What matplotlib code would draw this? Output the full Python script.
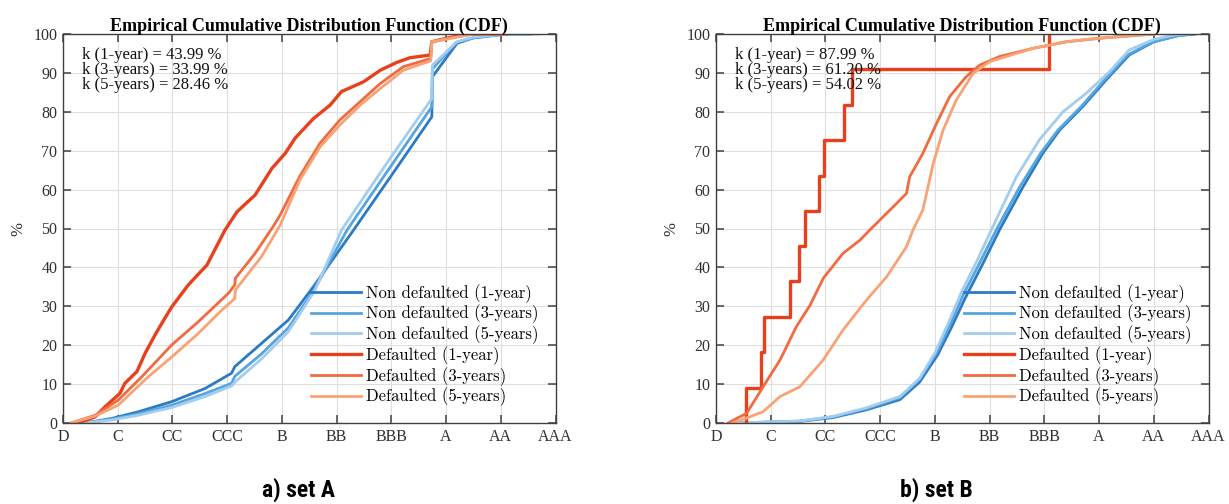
import numpy as np
import matplotlib.pyplot as plt

ratings = ['D', 'C', 'CC', 'CCC', 'B', 'BB', 'BBB', 'A', 'AA', 'AAA']

# ---- set A ----
a_nd1_x = [0.40, 0.90, 1.38, 1.99, 2.60, 3.08, 3.14, 3.63, 4.12, 4.60, 5.31, 6.00, 6.74, 6.75, 7.20, 7.50, 8.10, 8.55]
a_nd1_y = [0, 1.2, 2.9, 5.5, 8.9, 12.8, 14.5, 20.5, 26.5, 35.5, 49.6, 63.6, 78.7, 89.0, 97.6, 99.0, 100, 100]
a_nd3_x = [0.40, 0.90, 1.38, 1.99, 2.60, 3.08, 3.14, 3.63, 4.12, 4.60, 5.19, 6.00, 6.74, 6.75, 7.18, 7.50, 8.10, 8.55]
a_nd3_y = [0, 1.0, 2.4, 4.6, 7.6, 10.2, 12.0, 17.8, 24.5, 34.5, 49.6, 66.2, 81.3, 91.0, 97.8, 99.0, 100, 100]
a_nd5_x = [0.40, 0.90, 1.38, 1.99, 2.60, 3.08, 3.14, 3.63, 4.12, 4.60, 5.09, 6.00, 6.74, 6.75, 7.20, 7.50, 8.10, 8.70]
a_nd5_y = [0, 0.8, 2.0, 4.0, 6.8, 9.5, 10.5, 16.5, 23.5, 34.0, 49.6, 68.5, 83.4, 92.0, 98.0, 99.2, 100, 100]
a_d1_x = [0.19, 0.40, 0.59, 0.77, 1.04, 1.13, 1.35, 1.50, 1.68, 1.86, 1.99, 2.29, 2.63, 2.96, 3.18,
          3.51, 3.82, 4.06, 4.24, 4.58, 4.88, 5.09, 5.49, 5.80, 6.10, 6.34, 6.71, 6.74, 7.01, 7.38, 8.10]
a_d1_y = [0, 0.6, 1.6, 4.2, 7.6, 10.2, 13.2, 17.9, 22.6, 26.9, 29.9, 35.5, 40.6, 49.6, 54.3,
          58.6, 65.5, 69.3, 73.2, 78.3, 81.7, 85.2, 87.7, 90.7, 92.7, 93.9, 94.6, 98.0, 98.9, 100, 100]
a_d3_x = [0.15, 0.59, 1.01, 1.44, 1.99, 2.47, 3.02, 3.14, 3.15, 3.51, 3.84, 3.97, 4.33, 4.70, 5.06,
          5.43, 5.80, 6.22, 6.72, 6.74, 7.13, 7.50, 8.10]
a_d3_y = [0, 2.0, 5.9, 11.9, 20.1, 26.0, 33.3, 35.5, 37.2, 43.6, 50.5, 53.5, 63.5, 72.0, 77.9,
          82.6, 87.3, 91.6, 93.7, 98.0, 99.1, 100, 100]
a_d5_x = [0.15, 0.59, 1.01, 1.56, 1.99, 2.47, 2.90, 3.14, 3.15, 3.63, 3.97, 4.33, 4.70, 5.06, 5.43,
          5.80, 6.22, 6.72, 6.74, 7.13, 7.50, 8.10]
a_d5_y = [0, 1.8, 4.6, 11.9, 17.0, 23.0, 29.0, 32.0, 34.2, 42.8, 50.9, 62.5, 71.0, 76.6, 81.7,
          86.0, 90.7, 93.1, 98.0, 99.0, 100, 100]
a_k = ['43.99', '33.99', '28.46']

# ---- set B ----
b_nd1_x = [0.38, 1.53, 2.14, 2.75, 3.36, 3.72, 4.05, 4.30, 4.55, 4.86, 5.18, 5.61, 5.97, 6.28, 6.70, 7.13, 7.55, 8.00, 8.45, 8.75]
b_nd1_y = [0, 0.4, 1.4, 3.4, 6.0, 10.5, 17.5, 24.5, 32.0, 40.5, 49.6, 60.7, 69.3, 75.3, 81.3, 88.2, 94.6, 98.0, 99.6, 100]
b_nd3_x = [0.38, 1.53, 2.14, 2.75, 3.36, 3.72, 4.03, 4.27, 4.51, 4.82, 5.12, 5.55, 5.93, 6.25, 6.67, 7.10, 7.52, 7.98, 8.45, 8.75]
b_nd3_y = [0, 0.5, 1.6, 3.7, 6.5, 11.2, 18.0, 25.0, 32.7, 41.2, 49.6, 60.7, 69.3, 75.3, 81.3, 88.2, 94.6, 98.0, 99.6, 100]
b_nd5_x = [0.38, 1.53, 2.14, 2.75, 3.36, 3.72, 4.00, 4.24, 4.48, 4.78, 5.03, 5.49, 5.91, 6.34, 6.76, 7.19, 7.55, 8.00, 8.35, 8.60]
b_nd5_y = [0, 0.5, 1.7, 3.9, 6.8, 11.5, 18.0, 25.5, 33.5, 42.0, 49.6, 63.3, 72.8, 80.0, 84.7, 90.3, 95.9, 98.6, 99.7, 100]
# stair: jump positions and level after each jump
b_d1_x = [0.55, 0.83, 0.88, 1.36, 1.52, 1.62, 1.89, 1.97, 2.34, 2.48, 6.08]
b_d1_y = [9.1, 18.2, 27.3, 36.4, 45.5, 54.5, 63.6, 72.7, 81.8, 90.9, 100]
b_d3_x = [0.22, 0.56, 0.86, 1.17, 1.47, 1.72, 1.96, 2.32, 2.63, 2.81, 3.24, 3.48, 3.54, 3.78, 4.03,
          4.27, 4.57, 4.82, 5.18, 5.79, 6.40, 7.00, 7.55, 8.00]
b_d3_y = [0, 2.5, 9.3, 16.2, 24.8, 30.3, 37.2, 43.6, 47.0, 49.6, 55.6, 59.0, 63.3, 69.3, 77.0,
          83.9, 89.0, 92.0, 94.2, 96.3, 98.0, 98.9, 99.5, 100]
b_d5_x = [0.30, 0.62, 0.86, 1.17, 1.53, 1.96, 2.32, 2.75, 3.12, 3.48, 3.60, 3.78, 3.97, 4.15, 4.39,
          4.70, 5.00, 5.79, 6.40, 7.00, 7.55, 8.00]
b_d5_y = [0, 1.6, 2.9, 6.8, 9.3, 16.2, 23.9, 31.6, 37.6, 45.3, 49.6, 54.8, 66.7, 75.3, 83.0,
          89.9, 92.9, 96.3, 98.0, 98.9, 99.5, 100]
b_k = ['87.99', '61.20', '54.02']

labels = ['Non defaulted (1-year)', 'Non defaulted (3-years)', 'Non defaulted (5-years)',
          'Defaulted (1-year)', 'Defaulted (3-years)', 'Defaulted (5-years)']
colors = ['#2b7bc4', '#56a5de', '#a3cdf0', '#e8401c', '#f26a3f', '#f9a274']
widths = [2.0, 2.0, 2.0, 2.4, 2.0, 2.0]

serif = 'Liberation Serif'
dark = '#303030'


def draw(ax, series, kvals, stair_idx=None):
    for i, (x, y) in enumerate(series):
        if i == stair_idx:
            ax.step(np.r_[x[0], x], np.r_[0, y], where='post', color=colors[i],
                    lw=widths[i], label=labels[i])
        else:
            ax.plot(x, y, color=colors[i], lw=widths[i], label=labels[i])
    ax.set_xlim(0, 9)
    ax.set_ylim(0, 100)
    ax.set_xticks(range(10))
    ax.set_xticklabels(ratings, family=serif, fontsize=11.5, color=dark)
    ax.set_yticks(range(0, 101, 10))
    ax.set_yticklabels([str(v) for v in range(0, 101, 10)], family=serif, fontsize=11.5, color=dark)
    ax.tick_params(direction='in', top=True, right=True, length=6, width=1.1, color='#404040', pad=4)
    ax.grid(True, color='#dedede', lw=0.8)
    ax.set_axisbelow(True)
    for s in ax.spines.values():
        s.set_color('#404040')
        s.set_linewidth(1.0)
    ax.set_ylabel('%', family=serif, fontsize=12, color=dark, labelpad=5)
    ax.set_title('Empirical Cumulative Distribution Function (CDF)', family=serif,
                 fontweight='bold', fontsize=13, pad=2)
    names = ['1-year', '3-years', '5-years']
    for j in range(3):
        ax.text(0.039, 0.946 - 0.0385 * j, 'k (%s) = %s %%' % (names[j], kvals[j]),
                transform=ax.transAxes, family=serif, fontsize=12, va='center', color='#111111')
    ax.legend(loc='lower right', frameon=False, prop={'family': 'cmr10', 'size': 12},
              handlelength=3.0, handletextpad=0.3, labelspacing=0.12, borderaxespad=0.6)


fig = plt.figure(figsize=(12.29, 5.04), dpi=100)
ax_a = fig.add_axes([63 / 1229, 81 / 504, 492.5 / 1229, 389 / 504])
ax_b = fig.add_axes([716 / 1229, 81 / 504, 492.5 / 1229, 389 / 504])

draw(ax_a, [(a_nd1_x, a_nd1_y), (a_nd3_x, a_nd3_y), (a_nd5_x, a_nd5_y),
            (a_d1_x, a_d1_y), (a_d3_x, a_d3_y), (a_d5_x, a_d5_y)], a_k)
draw(ax_b, [(b_nd1_x, b_nd1_y), (b_nd3_x, b_nd3_y), (b_nd5_x, b_nd5_y),
            (b_d1_x, b_d1_y), (b_d3_x, b_d3_y), (b_d5_x, b_d5_y)], b_k, stair_idx=3)

cap_font = ['Liberation Sans Narrow', 'Roboto Condensed', 'DejaVu Sans']
fig.text(299 / 1229, 14 / 504, 'a) set A', ha='center', va='center', fontsize=17,
         fontweight='bold', fontstretch='condensed', family=cap_font)
fig.text(936 / 1229, 14 / 504, 'b) set B', ha='center', va='center', fontsize=17,
         fontweight='bold', fontstretch='condensed', family=cap_font)

fig.savefig('out.png', dpi=100)
